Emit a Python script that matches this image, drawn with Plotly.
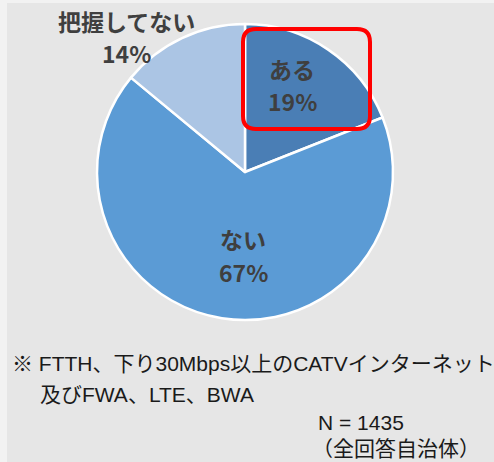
import plotly.graph_objects as go

W, H = 494, 462

categories = ["ある", "ない", "把握してない"]
values = [19, 67, 14]
pct_labels = ["19%", "67%", "14%"]
colors = ["#4a7eb5", "#5b9bd5", "#abc5e4"]

note_lines = ["※ FTTH、下り30Mbps以上のCATVインターネット", "及びFWA、LTE、BWA"]
n_lines = ["N = 1435", "（全回答自治体）"]

cx, cy, r = 245, 172, 148


def px(x):
    return x / W


def py(y):
    return 1 - y / H


fig = go.Figure()
fig.add_trace(go.Pie(
    labels=categories, values=values, sort=False, direction="clockwise", rotation=0,
    marker=dict(colors=colors, line=dict(color="white", width=2.5)),
    textinfo="none", hoverinfo="label+percent", showlegend=False,
    domain=dict(x=[px(cx - r), px(cx + r)], y=[py(cy + r), py(cy - r)]),
))

font_lbl = dict(family="Noto Sans CJK JP", size=23, color="#3f3f3f")
label_pos = [(292, 69, 101), (243, 239, 272), (126, 21, 53)]
annotations = []
for cat, pct, (x, y1, y2) in zip(categories, pct_labels, label_pos):
    annotations.append(dict(x=x, y=y1, text="<b>%s</b>" % cat, showarrow=False, font=font_lbl,
                            xref="x", yref="y", xanchor="center", yanchor="middle"))
    annotations.append(dict(x=x, y=y2, text="<b>%s</b>" % pct, showarrow=False, font=font_lbl,
                            xref="x", yref="y", xanchor="center", yanchor="middle"))

font_note = dict(family="Liberation Sans, Noto Sans CJK JP", size=21, color="#1a1a1a")
annotations.append(dict(x=10, y=363, text=note_lines[0], showarrow=False, font=font_note,
                        xref="x", yref="y", xanchor="left", yanchor="middle"))
annotations.append(dict(x=38, y=394, text=note_lines[1], showarrow=False, font=font_note,
                        xref="x", yref="y", xanchor="left", yanchor="middle"))
annotations.append(dict(x=316, y=422, text=n_lines[0], showarrow=False, font=font_note,
                        xref="x", yref="y", xanchor="left", yanchor="middle"))
annotations.append(dict(x=310, y=448, text=n_lines[1], showarrow=False, font=font_note,
                        xref="x", yref="y", xanchor="left", yanchor="middle"))

# rounded red rectangle
x0, x1, y0, y1, rr = 243, 370, 29, 129, 13
path = (f"M {x0+rr} {y0} L {x1-rr} {y0} Q {x1} {y0} {x1} {y0+rr} "
        f"L {x1} {y1-rr} Q {x1} {y1} {x1-rr} {y1} "
        f"L {x0+rr} {y1} Q {x0} {y1} {x0} {y1-rr} "
        f"L {x0} {y0+rr} Q {x0} {y0} {x0+rr} {y0} Z")

shapes = [
    dict(type="rect", xref="x", yref="y", x0=7, x1=W, y0=3, y1=H, fillcolor="#e6e6e6",
         line=dict(width=0), layer="below"),
    dict(type="path", xref="x", yref="y", path=path, line=dict(color="#ff0000", width=4),
         fillcolor="rgba(0,0,0,0)", layer="above"),
]

fig.update_layout(
    width=W, height=H, margin=dict(l=0, r=0, t=0, b=0),
    paper_bgcolor="#f2f2f2", plot_bgcolor="rgba(0,0,0,0)",
    xaxis=dict(range=[0, W], visible=False, fixedrange=True),
    yaxis=dict(range=[H, 0], visible=False, fixedrange=True),
    annotations=annotations, shapes=shapes,
)

fig.write_html(
    "out.html",
    config={"displayModeBar": False},
    post_script="document.body.style.margin='0';document.body.style.padding='0';"
                "document.body.style.overflow='hidden';",
)
